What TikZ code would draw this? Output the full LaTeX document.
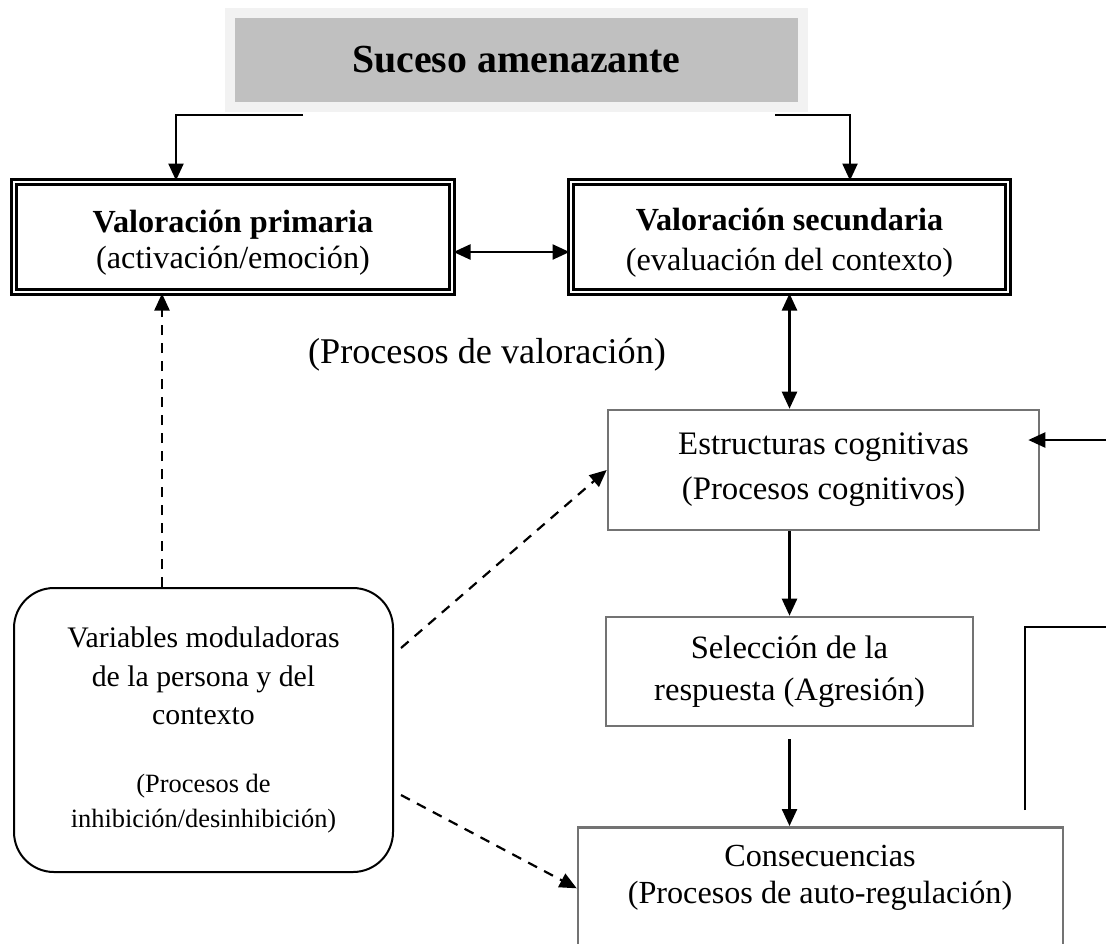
\documentclass[tikz,border=0pt]{standalone}
\usepackage{fontspec}
\setmainfont{Liberation Serif}
\usetikzlibrary{arrows.meta,calc}
\definecolor{marcoclaro}{HTML}{F2F2F2}
\definecolor{fondogris}{HTML}{C0C0C0}

\begin{document}
\begin{tikzpicture}[x=0.5pt,y=0.5pt,
  flecha/.style={line width=1.2pt,-{Triangle[length=8.5pt,width=7.5pt]}},
  dobleflecha/.style={line width=1.2pt,{Triangle[length=8.5pt,width=7.5pt]}-{Triangle[length=8.5pt,width=7.5pt]}},
  discont/.style={line width=1.1pt,dash pattern=on 5pt off 4pt,-{Triangle[length=8.5pt,width=7.5pt]}},
  valbox/.style={draw,double,line width=1.5pt,double distance=1pt,minimum height=55pt,align=center,font=\fontsize{16.1}{18}\selectfont},
  procbox/.style={draw=black!55,line width=1.3pt,align=center,font=\fontsize{16.3}{21}\selectfont}]

\useasboundingbox (0,0) rectangle (1106,-943);
\clip (0,0) rectangle (1106,-943);

\node [draw=marcoclaro,fill=fondogris,line width=5pt,minimum width=286.5pt,minimum height=47pt,font=\fontsize{19.9}{22}\selectfont\bfseries] (suceso) at (516.5,-60) {Suceso amenazante};

\node [valbox,minimum width=219pt] (vp) at (233,-237) {\rule{0pt}{17pt}\textbf{Valoración primaria}\\(activación/emoción)};
\node [valbox,minimum width=218.5pt,font=\fontsize{16.1}{20}\selectfont] (vs) at (789.5,-237) {\rule{0pt}{17pt}\textbf{Valoración secundaria}\\(evaluación del contexto)};

\node [font=\fontsize{18.1}{21}\selectfont] (procval) at (487,-355) {(Procesos de valoración)};

\node [procbox,minimum width=215.5pt,minimum height=60pt,font=\fontsize{16.4}{22.5}\selectfont] (estr) at (823.5,-470) {Estructuras cognitivas\\(Procesos cognitivos)};
\node [procbox,minimum width=183.5pt,minimum height=54.5pt] (sel) at (789.5,-671.5) {Selección de la\\respuesta (Agresión)};
\node [procbox,minimum width=242.5pt,minimum height=61pt,anchor=north] (cons) at (820.5,-826) {};
\node [align=center,font=\fontsize{16.1}{18.5}\selectfont] (constxt) at (820,-878) {Consecuencias\\(Procesos de auto-regulación)};

\node [draw,line width=1pt,rounded corners=20pt,minimum width=189.5pt,minimum height=142pt,align=center,font=\fontsize{14.9}{19.3}\selectfont] (vars) at (203.5,-730) {Variables moduladoras\\de la persona y del\\contexto\\[14.7pt]{\fontsize{13.2}{17.5}\selectfont (Procesos de}\\[-1.8pt]{\fontsize{13.2}{17.5}\selectfont inhibición/desinhibición)}};

\coordinate (sl) at (303,-115);
\coordinate (sr) at (775,-115);
\coordinate (cl) at (176,-115);
\coordinate (cr) at (850,-115);
\draw [flecha] (sl) -- (cl) -- (cl |- vp.north);
\draw [flecha] (sr) -- (cr) -- (cr |- vs.north);
\draw [dobleflecha] ([yshift=-7.5pt]vp.east) -- ([yshift=-7.5pt]vs.west);
\draw [discont] ([xshift=-20.75pt]vars.north) -- ([xshift=-20.75pt]vars.north |- vp.south);
\draw [dobleflecha] (vs.south) -- (vs.south |- estr.north);
\draw [flecha] (sel.north |- estr.south) -- (sel.north);
\draw [flecha] ([yshift=-6pt]sel.south) -- (sel.south |- cons.north);

\coordinate (rin) at (1106,-440);
\draw [flecha,shorten >=-6pt] (rin) -- (rin -| estr.east);
\coordinate (rfin) at (1106,-627);
\coordinate (rini) at (1025,-810);
\draw [line width=1.2pt] (rini) |- (rfin);

\draw [discont] ([shift={(3.5pt,41pt)}]vars.east) -- (estr.west);
\draw [discont] ([shift={(3.5pt,-32.5pt)}]vars.east) -- (cons.west);
\end{tikzpicture}
\end{document}
